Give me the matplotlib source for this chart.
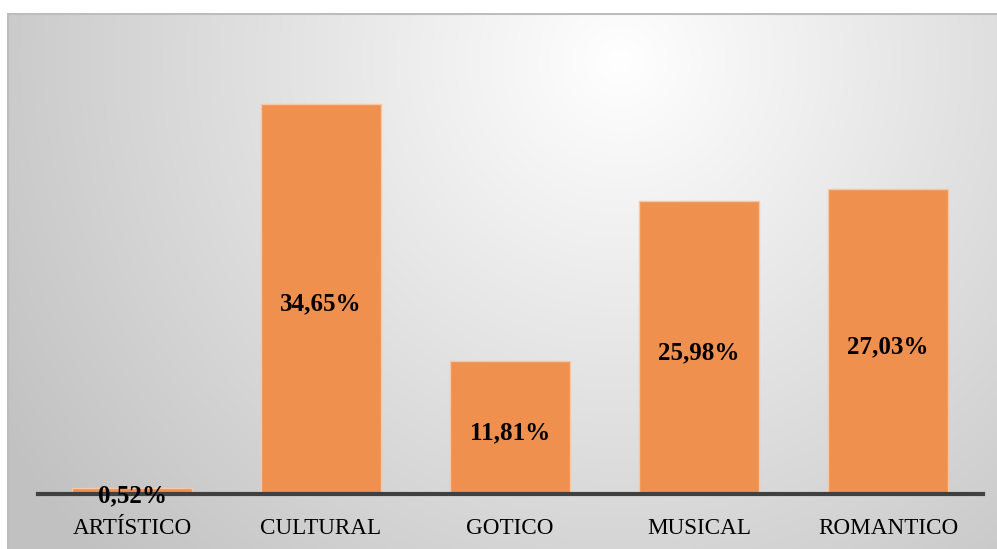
import numpy as np
import matplotlib.pyplot as plt

categories = ["ARTÍSTICO", "CULTURAL", "GOTICO", "MUSICAL", "ROMANTICO"]
values = [0.52, 34.65, 11.81, 25.98, 27.03]
labels = ["0,52%", "34,65%", "11,81%", "25,98%", "27,03%"]

W, H = 997, 549
fig = plt.figure(figsize=(W / 100, H / 100), dpi=100)
fig.patch.set_facecolor("white")

# radial gradient background of the chart area
bg = fig.add_axes([7 / W, 0, (W - 7) / W, (H - 13) / H])
bg.set_axis_off()
nx, ny = 400, 220
xx, yy = np.meshgrid(np.linspace(7, W, nx), np.linspace(13, H, ny))
cx, cy = 620, 60
r = np.sqrt((xx - cx) ** 2 + (yy - cy) ** 2) / 720
r = np.clip(r, 0, 1)
shade = 1.0 - 0.24 * r
img = np.dstack([shade, shade, shade])
bg.imshow(img, aspect="auto", extent=[0, 1, 0, 1], origin="upper")
bg.set_xlim(0, 1)
bg.set_ylim(0, 1)
bg.plot([0, 1], [0.999, 0.999], color="#BDBDBD", lw=1.5)
bg.plot([0.001, 0.001], [0, 1], color="#BDBDBD", lw=1.5)

ax = fig.add_axes([37.5 / W, (H - 494) / H, 945 / W, 480 / H])
ax.patch.set_alpha(0)
x = np.arange(len(categories))
ax.bar(x, values, width=0.635, color="#EF904F", edgecolor="#F6C7A4", linewidth=1, zorder=2)
ax.set_xlim(-0.5, len(categories) - 0.5)
ax.set_ylim(0, 42.6)

for s in ["top", "left", "right"]:
    ax.spines[s].set_visible(False)
ax.spines["bottom"].set_color("#404040")
ax.spines["bottom"].set_linewidth(3)
ax.spines["bottom"].set_zorder(3)
ax.set_yticks([])
ax.set_xticks(x)
ax.set_xticklabels(categories, family="Liberation Serif", fontsize=16.7, color="black")
ax.tick_params(axis="x", length=0, pad=17)

for xi, v, lab in zip(x, values, labels):
    ax.annotate(lab, (xi, v / 2), xytext=(0, -3.5), textcoords="offset points",
                ha="center", va="center", family="Liberation Serif",
                fontsize=18, fontweight="bold", color="black", zorder=4)

fig.savefig("out.png", dpi=100)
